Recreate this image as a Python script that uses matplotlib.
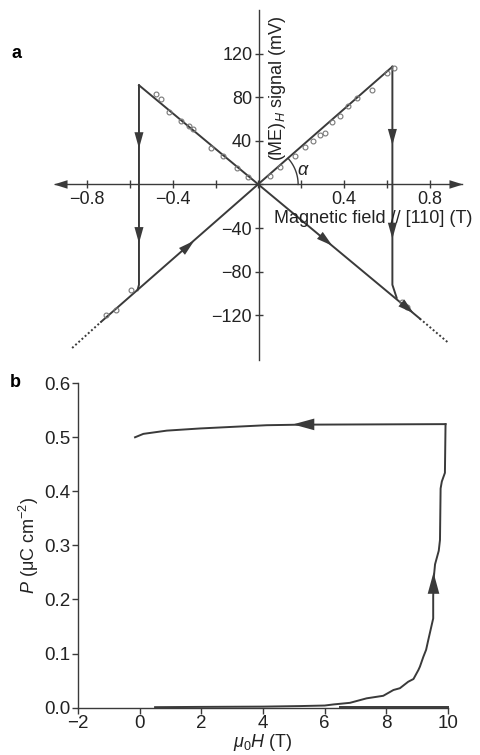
import numpy as np
from matplotlib import pyplot as plt

plt.rcParams['font.family'] = ['Liberation Sans', 'DejaVu Sans']
plt.rcParams['mathtext.fontset'] = 'custom'
plt.rcParams['mathtext.rm'] = 'Liberation Sans'
plt.rcParams['mathtext.it'] = 'Liberation Sans:italic'

INK = '#3a3a3a'

# ---- panel a: ME signal vs field (two straight branches + switching jumps)
pos_H = [-0.735, 0.625]          # solid part, positive slope branch
pos_V = [-126, 108]
pos_dot_H = [-0.87, -0.735]
pos_dot_V = [-150, -126]
neg_H = [-0.558, 0.753]          # solid part, negative slope branch
neg_V = [91, -123]
neg_dot_H = [0.753, 0.885]
neg_dot_V = [-123, -145]
jump_left_H = [-0.558, -0.558, -0.565]
jump_left_V = [91, -92, -97]
jump_right_H = [0.625, 0.625, 0.645]
jump_right_V = [108, -92, -104]

pts_H = [0.633, 0.600, 0.530, 0.460, 0.419, 0.381, 0.344, 0.312, 0.288, 0.256,
         0.219, 0.172, 0.102, 0.056,
         -0.479, -0.456, -0.419, -0.363, -0.326, -0.307, -0.223, -0.167, -0.10, -0.05,
         -0.595, -0.665, -0.712, 0.67, 0.693]
pts_V = [107, 102.5, 87, 79.6, 72.3, 63.2, 57.7, 47.6, 44.9, 40.3,
         33.9, 26.5, 15.6, 8.2,
         83, 78.4, 66.2, 58.6, 54, 51.3, 33, 26.5, 15, 7,
         -97, -115, -120, -108, -112.6]

# arrowheads (tail, tip)
arrows_a = [((-0.558, 45), (-0.558, 33)), ((-0.558, -42), (-0.558, -54)),
            ((0.625, 48), (0.625, 36)), ((0.625, -38), (0.625, -50)),
            ((-0.345, -59.3), (-0.30, -51.6)), ((0.30, -48.9), (0.345, -56.2)),
            ((0.68, -110.8), (0.725, -118.2))]

# ---- panel b: polarization vs field
up_H = [0.5, 2.0, 4.0, 5.2, 6.0, 6.28, 6.82, 7.36, 7.90, 8.23, 8.44, 8.71, 8.88,
        9.04, 9.09, 9.2, 9.29, 9.36, 9.42, 9.52, 9.52, 9.53, 9.58, 9.7, 9.74,
        9.76, 9.80, 9.9, 9.92]
up_P = [0.001, 0.0015, 0.002, 0.003, 0.004, 0.006, 0.009, 0.0173, 0.022, 0.0327,
        0.036, 0.048, 0.053, 0.0697, 0.076, 0.094, 0.107, 0.125, 0.14, 0.165,
        0.205, 0.235, 0.265, 0.29, 0.31, 0.405, 0.418, 0.434, 0.524]
down_H = [9.92, 5.2, 4.12, 3.03, 1.96, 0.88, 0.12, -0.15]
down_P = [0.524, 0.523, 0.522, 0.519, 0.516, 0.512, 0.506, 0.4997]
base_H = [6.5, 10.0]
base_P = [0.001, 0.001]

fig = plt.figure(figsize=(4.8, 7.55), dpi=100)

# ================= panel a =================
ax = fig.add_axes([55 / 480, 1 - 360 / 755, 407 / 480, 350 / 755])
ax.set_xlim(-0.95, 0.95)
ax.set_ylim(-161, 160)
for s in ['top', 'right']:
    ax.spines[s].set_visible(False)
ax.spines['left'].set_position('zero')
ax.spines['bottom'].set_position('zero')
for s in ['left', 'bottom']:
    ax.spines[s].set_color(INK)
    ax.spines[s].set_linewidth(1.0)

xt = np.arange(-0.8, 0.81, 0.2)
ax.set_xticks(xt)
ax.set_xticklabels(['\u22120.8', '', '\u22120.4', '', '', '', '0.4', '', '0.8'])
yt = np.arange(-120, 121, 40)
ax.set_yticks(yt)
ax.set_yticklabels(['\u2212120', '\u221280', '\u221240', '', '40', '80', '120'])
ax.tick_params(direction='inout', length=6, width=1.0, color=INK,
               labelsize=13, pad=1.5, labelcolor='#222222')

# axis arrows on the field axis
for tail, tip in [((0.9, 0), (0.955, 0)), ((-0.9, 0), (-0.955, 0))]:
    ax.annotate('', xy=tip, xytext=tail, annotation_clip=False,
                arrowprops=dict(arrowstyle='-|>,head_length=0.7,head_width=0.22',
                                color=INK, lw=0, shrinkA=0, shrinkB=0,
                                mutation_scale=14))

ax.plot(pos_H, pos_V, color=INK, lw=1.4)
ax.plot(neg_H, neg_V, color=INK, lw=1.4)
ax.plot(pos_dot_H, pos_dot_V, color=INK, lw=1.4, ls=(0, (1, 1.2)), clip_on=False)
ax.plot(neg_dot_H, neg_dot_V, color=INK, lw=1.4, ls=(0, (1, 1.2)), clip_on=False)
ax.plot(jump_left_H, jump_left_V, color=INK, lw=1.4)
ax.plot(jump_right_H, jump_right_V, color=INK, lw=1.4)
ax.plot(pts_H, pts_V, 'o', ms=3.5, mfc='none', mec='#777777', mew=0.8)

for tail, tip in arrows_a:
    ax.annotate('', xy=tip, xytext=tail,
                arrowprops=dict(arrowstyle='-|>,head_length=0.9,head_width=0.25',
                                color=INK, lw=0, shrinkA=0, shrinkB=0,
                                mutation_scale=13))

# angle alpha
t = np.linspace(0, np.arctan(172 * 0.185 / 36), 40)
ax.plot(0.185 * np.cos(t), 36 * np.sin(t), color=INK, lw=1.0)
ax.text(0.21, 13, r'$\alpha$', fontsize=13, ha='center', va='center', color='#222222')

ax.text(0.535, -31, 'Magnetic field // [110] (T)', fontsize=13,
        ha='center', va='center', color='#222222')
ax.text(0.088, 88, '(ME)$_H$ signal (mV)', fontsize=13, rotation=90,
        ha='center', va='center', color='#222222')

fig.text(17 / 480, 1 - 53 / 755, 'a', fontsize=13, fontweight='bold',
         ha='center', va='center')

# ================= panel b =================
bx = fig.add_axes([78 / 480, 1 - 707.7 / 755, 370 / 480, 324.7 / 755])
bx.set_xlim(-2, 10)
bx.set_ylim(0, 0.6)
for s in ['top', 'right']:
    bx.spines[s].set_visible(False)
for s in ['left', 'bottom']:
    bx.spines[s].set_color(INK)
    bx.spines[s].set_linewidth(1.0)
bx.set_xticks(np.arange(-2, 11, 2))
bx.set_xticklabels(['\u22122', '0', '2', '4', '6', '8', '10'])
bx.set_yticks(np.arange(0, 0.61, 0.1))
bx.set_yticklabels(['%.1f' % v for v in np.arange(0, 0.61, 0.1)])
bx.tick_params(direction='out', length=4, width=1.0, color=INK,
               labelsize=13.5, pad=1.5, labelcolor='#222222')

bx.plot(up_H, up_P, color=INK, lw=1.4, clip_on=False)
bx.plot(down_H, down_P, color=INK, lw=1.4, clip_on=False)
bx.plot(base_H, base_P, color=INK, lw=1.4, clip_on=False)

for tail, tip in [((9.53, 0.205), (9.53, 0.25)), ((5.6, 0.5235), (4.97, 0.5235))]:
    bx.annotate('', xy=tip, xytext=tail,
                arrowprops=dict(arrowstyle='-|>,head_length=1.1,head_width=0.3',
                                color=INK, lw=0, shrinkA=0, shrinkB=0,
                                mutation_scale=14))

bx.set_xlabel(r'$\mu_0H$ (T)', fontsize=13, labelpad=0, color='#222222')
bx.set_ylabel('$P$ (\u03bcC cm$^{-2}$)', fontsize=13, labelpad=2, color='#222222')

fig.text(15 / 480, 1 - 383 / 755, 'b', fontsize=13, fontweight='bold',
         ha='center', va='center')

fig.savefig('out.png', dpi=100)
